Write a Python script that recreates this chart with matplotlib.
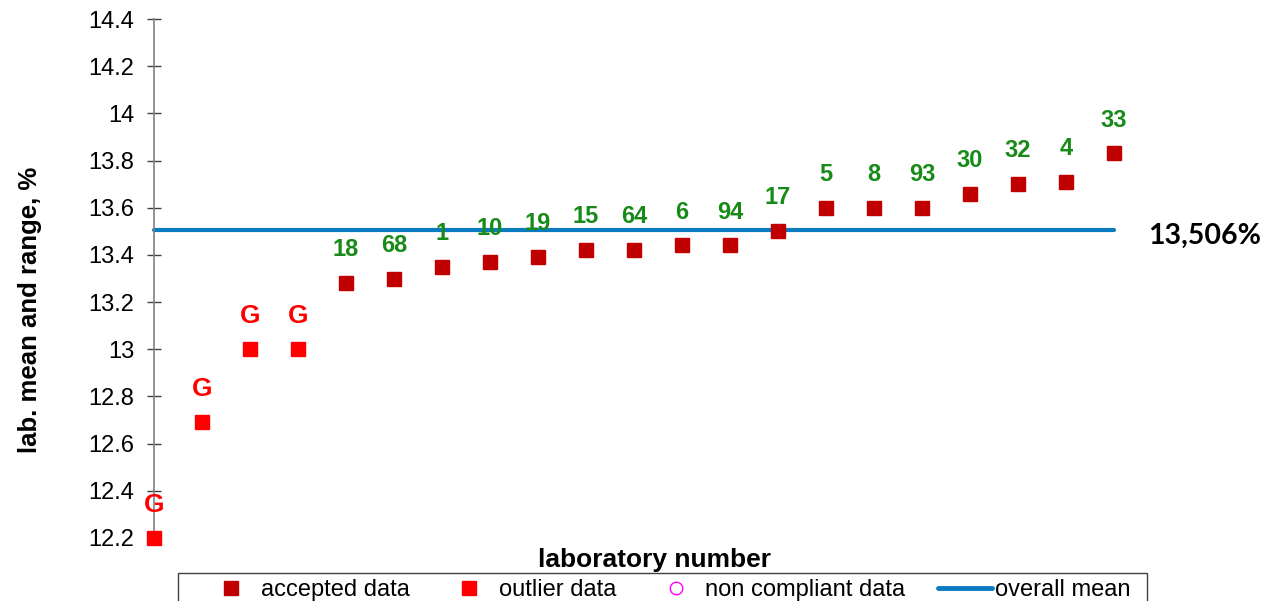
import matplotlib.pyplot as plt
from matplotlib.lines import Line2D
from matplotlib.patches import Rectangle

plt.rcParams['font.family'] = ['Liberation Sans', 'DejaVu Sans']

# lab results sorted ascending
lab_labels = ["G", "G", "G", "G", "18", "68", "1", "10", "19", "15", "64",
              "6", "94", "17", "5", "8", "93", "30", "32", "4", "33"]
lab_means = [12.20, 12.69, 13.00, 13.00, 13.28, 13.30, 13.35, 13.37, 13.39,
             13.42, 13.42, 13.44, 13.44, 13.50, 13.60, 13.60, 13.60, 13.66,
             13.70, 13.71, 13.83]
is_outlier = [True, True, True, True] + [False] * 17
overall_mean = 13.506
y_ticks = [12.2, 12.4, 12.6, 12.8, 13.0, 13.2, 13.4, 13.6, 13.8, 14.0, 14.2, 14.4]

accepted_col = "#C00000"
outlier_col = "#FF0000"
label_green = "#178A17"
mean_col = "#0B7BC1"


def main():
    fig = plt.figure(figsize=(12.79, 6.01), dpi=100)
    W, H = 1279, 601
    ax = fig.add_axes([154 / W, 1 - 538 / H, (1162 - 154) / W, (538 - 19) / H])

    xs = list(range(len(lab_means)))
    n = len(xs)
    ax.set_xlim(0, 21)
    ax.set_ylim(12.2, 14.4)

    ax.plot([0, n - 1], [overall_mean, overall_mean], color=mean_col, lw=3,
            solid_capstyle="round", zorder=2, clip_on=False)

    for x, y, lab, out in zip(xs, lab_means, lab_labels, is_outlier):
        col = outlier_col if out else accepted_col
        ax.plot(x, y, marker="s", ms=10, color=col, linestyle="none",
                zorder=3, clip_on=False)
        ax.annotate(lab, (x, y), xytext=(0, 24), textcoords="offset points",
                    ha="center", va="center", fontweight="bold",
                    fontsize=19 if out else 17,
                    color=outlier_col if out else label_green,
                    annotation_clip=False)

    ax.text(1148 / W, 1 - 236 / H, "13,506%", transform=fig.transFigure,
            fontsize=20.5, fontweight="bold", va="center", ha="left",
            family=["Lato", "DejaVu Sans"])

    for s in ["top", "right", "bottom"]:
        ax.spines[s].set_visible(False)
    ax.spines["left"].set_color("#808080")
    ax.spines["left"].set_linewidth(1.2)
    ax.set_yticks(y_ticks)
    ax.set_yticklabels([f"{t:g}" for t in y_ticks])
    ax.tick_params(axis="y", direction="inout", length=10, width=1,
                   color="#404040", labelsize=17, pad=9)
    ax.tick_params(axis="x", bottom=False, labelbottom=False)

    fig.text(30 / W, 1 - 310 / H, "lab. mean and range, %", rotation=90,
             ha="center", va="center", fontsize=18.5, fontweight="bold")
    fig.text(655 / W, 1 - 560 / H, "laboratory number", ha="center",
             va="center", fontsize=19, fontweight="bold")

    handles = [
        Line2D([], [], marker="s", ms=10, color=accepted_col, linestyle="none"),
        Line2D([], [], marker="s", ms=10, color=outlier_col, linestyle="none"),
        Line2D([], [], marker="o", ms=9, mfc="none", mec="#FF00FF",
               linestyle="none"),
        Line2D([], [], color=mean_col, lw=3.5, solid_capstyle="round"),
    ]
    names = ["accepted data", "outlier data", "non compliant data", "overall mean"]
    fig.legend(handles, names, loc="upper left", ncol=4, mode="expand",
               bbox_to_anchor=(198 / W, 1 - 573 / H, (1136 - 198) / W, 0),
               bbox_transform=fig.transFigure, fontsize=17,
               handlelength=2.3, handletextpad=0.1,
               borderpad=0.25, borderaxespad=0, frameon=False)
    # legend box (runs off the bottom edge like the original)
    fig.patches.append(Rectangle((178 / W, -0.02), (1147 - 178) / W,
                                 (601 - 573) / H + 0.02,
                                 transform=fig.transFigure, fill=False,
                                 edgecolor="#404040", lw=1.0))

    plt.savefig("out.png", dpi=100)


if __name__ == "__main__":
    main()
